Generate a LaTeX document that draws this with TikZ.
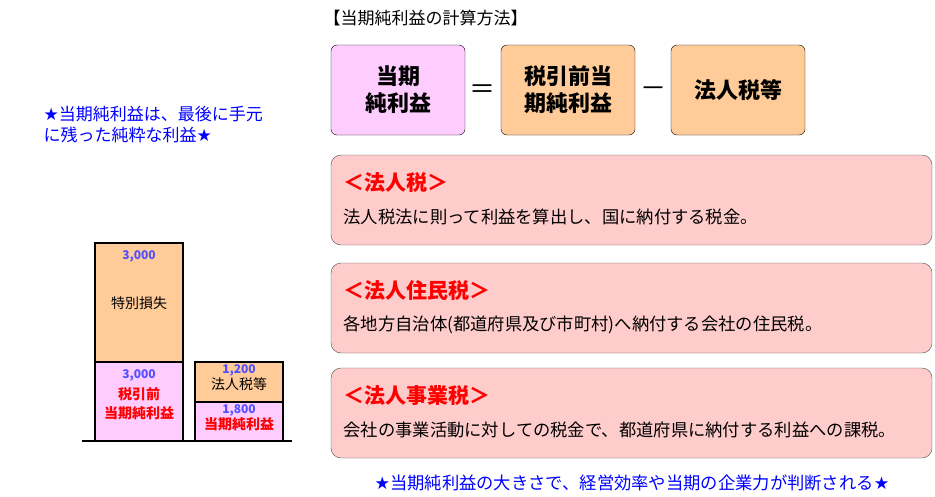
\documentclass[tikz,border=0pt]{standalone}
\usepackage{fontspec}
\setmainfont{Noto Sans CJK JP}
\newfontfamily\symfont{DejaVu Sans}
\usepackage{xcolor}
\definecolor{pinkfill}{RGB}{255,204,255}
\definecolor{orangefill}{RGB}{255,204,153}
\definecolor{redfill}{RGB}{255,204,204}
\definecolor{bluetxt}{RGB}{0,0,255}
\definecolor{numblue}{RGB}{80,80,255}
\tikzset{
  formbox/.style={draw, rounded corners=6pt, minimum width=134pt, minimum height=90pt, align=center, font=\fontsize{22}{27}\selectfont\bfseries},
  taxbox/.style={draw=black!70, rounded corners=10pt, fill=redfill, minimum width=601pt, minimum height=90pt},
  taxtitle/.style={anchor=west, text=red, font=\fontsize{21}{24}\selectfont\bfseries},
  taxbody/.style={anchor=west, font=\fontsize{17.3}{19}\selectfont},
  bar/.style={draw, line width=1.2pt},
  num/.style={text=numblue, font=\fontsize{12}{13}\selectfont\bfseries},
}
\begin{document}
\begin{tikzpicture}[x=1pt, y=-1pt]
    \useasboundingbox (0,0) rectangle (935,496);
    % title
    \node[anchor=west, font=\fontsize{17}{20}\selectfont] (title) at (320,18) {【当期純利益の計算方法】};
    % formula
    \node[formbox, fill=pinkfill] (net) at (398,90) {当期\\純利益};
    \node[font=\fontsize{26}{26}\selectfont] (eq) at (482,92) {＝};
    \node[formbox, fill=orangefill] (pretax) at (568,90) {税引前当\\期純利益};
    \node[font=\fontsize{26}{26}\selectfont] (minus) at (653,92) {－};
    \node[formbox, fill=orangefill] (tax) at (738,90) {法人税等};
    % tax boxes
    \node[taxbox] (corp) at (631.5,200) {};
    \node[taxtitle] (corpt) at (340,183) {＜法人税＞};
    \node[taxbody] (corpb) at (340,217) {法人税法に則って利益を算出し、国に納付する税金。};
    \node[taxbox] (res) at (631.5,308) {};
    \node[taxtitle] (rest) at (340,291) {＜法人住民税＞};
    \node[taxbody] (resb) at (340,325) {各地方自治体(都道府県及び市町村)へ納付する会社の住民税。};
    \node[taxbox] (biz) at (631.5,413) {};
    \node[taxtitle] (bizt) at (340,396) {＜法人事業税＞};
    \node[taxbody] (bizb) at (340,430) {会社の事業活動に対しての税金で、都道府県に納付する利益への課税。};
    % notes
    \node[anchor=west, align=left, text=bluetxt, font=\fontsize{17}{21}\selectfont] (note1) at (40,125) {{\symfont★}当期純利益は、最後に手元\\に残った純粋な利益{\symfont★}};
    \node[text=bluetxt, font=\fontsize{17.3}{19}\selectfont] (note2) at (632,483) {{\symfont★}当期純利益の大きさで、経営効率や当期の企業力が判断される{\symfont★}};
    % bars
    \draw[bar, fill=orangefill] (95,243) rectangle (183,362);
    \draw[bar, fill=pinkfill] (95,362) rectangle (183,441);
    \draw[bar, fill=orangefill] (195,362) rectangle (283,402);
    \draw[bar, fill=pinkfill] (195,402) rectangle (283,441);
    \draw[line width=1.2pt] (82,441) -- (292,441);
    \node[num] (n1) at (139,256) {3,000};
    \node[font=\fontsize{14}{16}\selectfont] (loss) at (139,303) {特別損失};
    \node[num] (n2) at (139,375) {3,000};
    \node[align=center, text=red, font=\fontsize{14}{19}\selectfont\bfseries] (pre) at (139,404) {税引前\\当期純利益};
    \node[num] (n3) at (239,370) {1,200};
    \node[font=\fontsize{14}{16}\selectfont] (ctax) at (239,384) {法人税等};
    \node[num] (n4) at (239,410) {1,800};
    \node[text=red, font=\fontsize{14}{16}\selectfont\bfseries] (netb) at (239,424) {当期純利益};
\end{tikzpicture}
\end{document}
